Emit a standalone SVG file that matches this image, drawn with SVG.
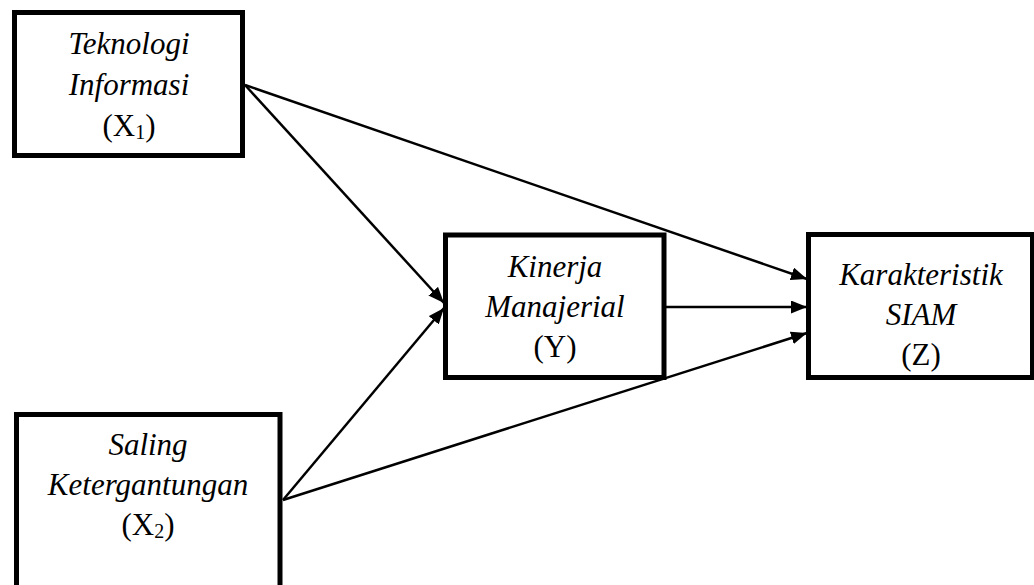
<svg xmlns="http://www.w3.org/2000/svg" width="1034" height="585" viewBox="0 0 1034 585">
  <style>
    .box { fill: #ffffff; stroke: #000000; stroke-width: 5; }
    .lbl { font-family: "Liberation Serif", "Times New Roman", serif; font-size: 31px; fill: #000000; text-anchor: middle; }
    .it { font-style: italic; }
    .sub { font-size: 20px; }
    .edge { stroke: #000000; stroke-width: 2.5; fill: none; marker-end: url(#arrow); }
  </style>
  <defs>
    <marker id="arrow" markerUnits="userSpaceOnUse" markerWidth="17" markerHeight="13" refX="16" refY="6.5" orient="auto">
      <path d="M0,0 L16,6.5 L0,13 z" fill="#000000"/>
    </marker>
  </defs>
  <rect width="1034" height="585" fill="#ffffff"/>

  <g id="connectors">
    <line class="edge" x1="245" y1="85" x2="444" y2="303"/>
    <line class="edge" x1="245" y1="85" x2="807" y2="279"/>
    <line class="edge" x1="283" y1="500" x2="444" y2="308"/>
    <line class="edge" x1="283" y1="500" x2="807" y2="333"/>
    <line class="edge" x1="666" y1="307" x2="807" y2="307"/>
  </g>

  <g id="node-x1">
    <rect class="box" x="14.5" y="12.5" width="228" height="143"/>
    <text class="lbl it" x="129" y="54">Teknologi</text>
    <text class="lbl it" x="129" y="95">Informasi</text>
    <text class="lbl" x="129" y="136">(X<tspan class="sub" dy="3">1</tspan><tspan dy="-3">)</tspan></text>
  </g>

  <g id="node-y">
    <rect class="box" x="445.5" y="235" width="218.5" height="142.5"/>
    <text class="lbl it" x="555" y="277">Kinerja</text>
    <text class="lbl it" x="555" y="317">Manajerial</text>
    <text class="lbl" x="555" y="357">(Y)</text>
  </g>

  <g id="node-z">
    <rect class="box" x="808.5" y="234.5" width="224" height="143"/>
    <text class="lbl it" x="921" y="285">Karakteristik</text>
    <text class="lbl it" x="921" y="325">SIAM</text>
    <text class="lbl" x="921" y="365">(Z)</text>
  </g>

  <g id="node-x2">
    <rect class="box" x="16.5" y="414.5" width="263.5" height="200"/>
    <text class="lbl it" x="148" y="455">Saling</text>
    <text class="lbl it" x="148" y="495">Ketergantungan</text>
    <text class="lbl" x="148" y="535">(X<tspan class="sub" dy="3">2</tspan><tspan dy="-3">)</tspan></text>
  </g>
</svg>
